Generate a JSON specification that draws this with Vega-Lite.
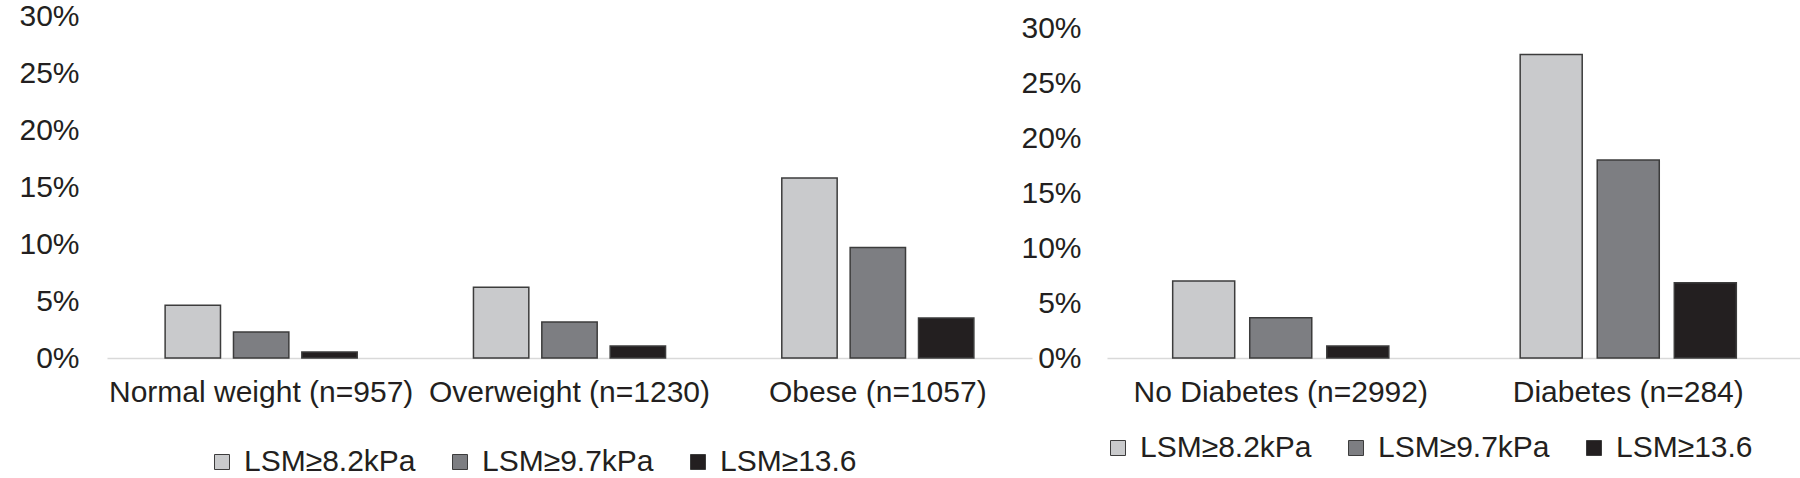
{
  "$schema": "https://vega.github.io/schema/vega-lite/v6.json",
  "autosize": {"type": "pad"},
  "padding": {"left": 18, "top": 1, "right": 0, "bottom": 0},
  "background": "white",
  "spacing": 75,
  "bounds": "flush",
  "config": {
    "view": {"stroke": null},
    "font": "Liberation Sans",
    "axis": {
      "labelFont": "Liberation Sans",
      "labelFontSize": 30,
      "labelColor": "#231f20",
      "ticks": false,
      "tickSize": 0,
      "grid": false,
      "title": null
    },
    "legend": {
      "labelFont": "Liberation Sans",
      "labelFontSize": 30,
      "labelColor": "#231f20",
      "labelLimit": 0
    }
  },
  "resolve": {
    "scale": {"x": "independent", "y": "independent", "xOffset": "independent", "color": "independent"},
    "legend": {"color": "independent"}
  },
  "hconcat": [
    {
      "width": 925,
      "height": 342,
      "data": {
        "values": [
          {"group": "Normal weight (n=957)", "cut": "LSM≥8.2kPa", "pct": 4.63},
          {"group": "Normal weight (n=957)", "cut": "LSM≥9.7kPa", "pct": 2.27},
          {"group": "Normal weight (n=957)", "cut": "LSM≥13.6", "pct": 0.52},
          {"group": "Overweight (n=1230)", "cut": "LSM≥8.2kPa", "pct": 6.2},
          {"group": "Overweight (n=1230)", "cut": "LSM≥9.7kPa", "pct": 3.15},
          {"group": "Overweight (n=1230)", "cut": "LSM≥13.6", "pct": 1.05},
          {"group": "Obese (n=1057)", "cut": "LSM≥8.2kPa", "pct": 15.8},
          {"group": "Obese (n=1057)", "cut": "LSM≥9.7kPa", "pct": 9.7},
          {"group": "Obese (n=1057)", "cut": "LSM≥13.6", "pct": 3.5}
        ]
      },
      "mark": {"type": "bar", "stroke": "#3c3c3c", "strokeWidth": 1.5},
      "encoding": {
        "x": {
          "field": "group", "type": "nominal", "sort": null,
          "scale": {"paddingInner": 0.377, "paddingOuter": 0.1885},
          "axis": {"labelAngle": 0, "domainColor": "#d9d9d9", "domainWidth": 1.5, "labelPadding": 19, "labelLimit": 0}
        },
        "xOffset": {
          "field": "cut", "type": "nominal",
          "sort": ["LSM≥8.2kPa", "LSM≥9.7kPa", "LSM≥13.6"],
          "scale": {"paddingInner": 0.19, "paddingOuter": 0}
        },
        "y": {
          "field": "pct", "type": "quantitative",
          "scale": {"domain": [0, 30]},
          "axis": {"values": [0, 5, 10, 15, 20, 25, 30], "labelExpr": "datum.value + '%'", "domain": false, "labelPadding": 28}
        },
        "color": {
          "field": "cut", "type": "nominal",
          "sort": ["LSM≥8.2kPa", "LSM≥9.7kPa", "LSM≥13.6"],
          "scale": {"domain": ["LSM≥8.2kPa", "LSM≥9.7kPa", "LSM≥13.6"], "range": ["#c9cacc", "#7d7e82", "#231f20"]},
          "legend": {
            "title": null, "orient": "none", "legendX": 100, "legendY": 431,
            "direction": "horizontal", "columns": 3, "padding": 0,
            "symbolType": "square", "symbolSize": 225,
            "symbolStrokeColor": "#3c3c3c", "symbolStrokeWidth": 1,
            "labelOffset": 7, "columnPadding": 29
          }
        }
      }
    },
    {
      "width": 695,
      "height": 342,
      "data": {
        "values": [
          {"group": "No Diabetes (n=2992)", "cut": "LSM≥8.2kPa", "pct": 7.0},
          {"group": "No Diabetes (n=2992)", "cut": "LSM≥9.7kPa", "pct": 3.65},
          {"group": "No Diabetes (n=2992)", "cut": "LSM≥13.6", "pct": 1.1},
          {"group": "Diabetes (n=284)", "cut": "LSM≥8.2kPa", "pct": 27.6},
          {"group": "Diabetes (n=284)", "cut": "LSM≥9.7kPa", "pct": 18.0},
          {"group": "Diabetes (n=284)", "cut": "LSM≥13.6", "pct": 6.85}
        ]
      },
      "mark": {"type": "bar", "stroke": "#3c3c3c", "strokeWidth": 1.5},
      "encoding": {
        "x": {
          "field": "group", "type": "nominal", "sort": null,
          "scale": {"paddingInner": 0.378, "paddingOuter": 0.189},
          "axis": {"labelAngle": 0, "domainColor": "#d9d9d9", "domainWidth": 1.5, "labelPadding": 19, "labelLimit": 0}
        },
        "xOffset": {
          "field": "cut", "type": "nominal",
          "sort": ["LSM≥8.2kPa", "LSM≥9.7kPa", "LSM≥13.6"],
          "scale": {"paddingInner": 0.195, "paddingOuter": 0}
        },
        "y": {
          "field": "pct", "type": "quantitative",
          "scale": {"domain": [0, 30], "range": [342, 12]},
          "axis": {"values": [0, 5, 10, 15, 20, 25, 30], "labelExpr": "datum.value + '%'", "domain": false, "labelPadding": 26}
        },
        "color": {
          "field": "cut", "type": "nominal",
          "sort": ["LSM≥8.2kPa", "LSM≥9.7kPa", "LSM≥13.6"],
          "scale": {"domain": ["LSM≥8.2kPa", "LSM≥9.7kPa", "LSM≥13.6"], "range": ["#c9cacc", "#7d7e82", "#231f20"]},
          "legend": {
            "title": null, "orient": "none", "legendX": -4, "legendY": 417,
            "direction": "horizontal", "columns": 3, "padding": 0,
            "symbolType": "square", "symbolSize": 225,
            "symbolStrokeColor": "#3c3c3c", "symbolStrokeWidth": 1,
            "labelOffset": 7, "columnPadding": 29
          }
        }
      }
    }
  ]
}
